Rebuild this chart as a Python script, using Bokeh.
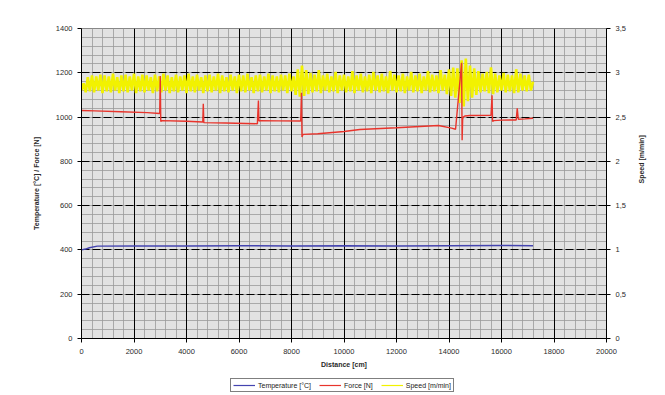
import math
from bokeh.plotting import figure
from bokeh.layouts import column
from bokeh.models import (Range1d, LinearAxis, SingleIntervalTicker, FixedTicker, Grid,
                          CustomJSTickFormatter, Legend, LegendItem)
from bokeh.embed import file_html
from bokeh.resources import INLINE

# ---- data ----
temp_dist = [0, 150, 300, 600, 2000, 4000, 6000, 8000, 10000, 12000, 14000, 16000, 17200]
temp_vals = [400, 404, 410, 417, 418, 418, 419, 418, 419, 418, 419, 420, 419]

force_dist = [0, 500, 1500, 2500, 2980, 3000, 3020, 3060, 4000, 4620, 4640, 4660, 5500,
              6700, 6740, 6760, 6800, 7500, 8350, 8380, 8400, 8440, 9000, 10000, 10600,
              12000, 13600, 14100, 14250, 14480, 14500, 14520, 14540, 14600, 14800,
              15600, 15640, 15660, 15700, 16000, 16560, 16600, 16640, 16900, 17200]
force_vals = [1030, 1028, 1024, 1020, 1016, 1185, 980, 984, 981, 978, 1060, 975, 973,
              970, 1075, 982, 984, 983, 982, 1110, 910, 922, 925, 935, 944,
              952, 962, 950, 945, 1245, 895, 990, 1000, 1005, 1007,
              1008, 1098, 980, 984, 986, 987, 1040, 990, 992, 995]

speed_step = 80  # cm between speed samples
speed_vals = [
    2.80, 2.88, 2.78, 2.95, 2.79, 2.97, 2.78, 2.96, 2.80, 2.98, 2.77, 2.97,
    2.79, 2.96, 2.78, 2.99, 2.80, 2.95, 2.77, 2.97, 2.79, 2.98, 2.78, 2.96,
    2.80, 2.99, 2.77, 2.96, 2.79, 2.98, 2.78, 2.97, 2.80, 2.95, 2.77, 2.98,
    2.79, 2.96, 2.78, 2.99, 2.80, 2.97, 2.77, 2.95, 2.79, 2.98, 2.78, 2.96,
    2.80, 2.97, 2.77, 2.99, 2.79, 2.96, 2.78, 2.98, 2.80, 2.95, 2.77, 2.97,
    2.79, 2.98, 2.78, 2.96, 2.80, 2.99, 2.77, 2.97, 2.79, 2.95, 2.78, 2.98,
    2.80, 2.96, 2.77, 2.98, 2.79, 2.97, 2.78, 2.99, 2.80, 2.95, 2.77, 2.97,
    2.79, 2.98, 2.78, 2.96, 2.80, 2.99, 2.77, 2.97, 2.79, 2.96, 2.78, 2.98,
    2.80, 2.97, 2.77, 2.99, 2.79, 2.96, 2.75, 3.04, 2.73, 3.08, 2.74, 3.03,
    2.76, 3.00, 2.78, 2.98, 2.79, 3.03, 2.77, 2.97, 2.80, 2.99, 2.78, 2.96,
    2.79, 3.01, 2.77, 2.97, 2.80, 2.98, 2.78, 2.96, 2.79, 3.02, 2.77, 2.97,
    2.80, 2.99, 2.78, 2.96, 2.79, 2.98, 2.77, 3.01, 2.80, 2.97, 2.78, 2.99,
    2.79, 2.96, 2.77, 3.02, 2.80, 2.98, 2.78, 2.97, 2.79, 2.99, 2.77, 2.96,
    2.80, 3.01, 2.78, 2.97, 2.79, 2.99, 2.77, 2.96, 2.80, 3.02, 2.78, 2.98,
    2.79, 2.97, 2.77, 3.03, 2.80, 2.98, 2.76, 3.04, 2.74, 3.06, 2.72, 3.05,
    2.66, 3.14, 2.62, 3.16, 2.68, 3.08, 2.72, 3.05, 2.75, 3.02, 2.78, 2.99,
    2.79, 3.01, 2.77, 3.06, 2.76, 2.99, 2.78, 2.97, 2.80, 3.00, 2.78, 2.98,
    2.79, 2.97, 2.77, 3.04, 2.78, 2.99, 2.80, 2.97, 2.79, 2.98, 2.80, 2.90,
]
speed_dist = [i * speed_step for i in range(len(speed_vals))]

right_ticks = [0, 0.5, 1, 1.5, 2, 2.5, 3, 3.5]

labels = ["Temperature [°C]", "Force [N]", "Speed [m/min]"]
colors = ["#4444b0", "#e8342c", "#f2f200"]

FONT = "Liberation Sans"

p = figure(frame_width=525, frame_height=310, output_backend="svg", toolbar_location=None,
           x_range=Range1d(0, 20000), y_range=Range1d(0, 1400),
           min_border_left=81, min_border_top=28, min_border_right=59, min_border_bottom=38,
           background_fill_color="#e2e2e2", border_fill_color="white",
           outline_line_color="#888888")
p.extra_y_ranges = {"speed": Range1d(0, 3.5)}

xt = SingleIntervalTicker(interval=2000, num_minor_ticks=0)
yt = SingleIntervalTicker(interval=200, num_minor_ticks=0)
p.xaxis.ticker = xt
p.yaxis.ticker = yt

# fine grid (every 400 cm / 40 units)
p.xgrid.ticker = SingleIntervalTicker(interval=400)
p.ygrid.ticker = SingleIntervalTicker(interval=40)
p.xgrid.grid_line_color = "#9a9a9a"
p.xgrid.grid_line_width = 0.8
p.ygrid.grid_line_color = "#9a9a9a"
p.ygrid.grid_line_width = 0.8

# major grid on top
p.add_layout(Grid(dimension=0, ticker=xt, grid_line_color="black", grid_line_width=1))
p.add_layout(Grid(dimension=1, ticker=yt, grid_line_color="black", grid_line_width=1,
                  grid_line_dash="8 3"))

rs = p.line(speed_dist, speed_vals, y_range_name="speed", color=colors[2], line_width=2.6)
rf = p.line(force_dist, force_vals, color=colors[1], line_width=1.4)
rt = p.line(temp_dist, temp_vals, color=colors[0], line_width=1.4)

ra = LinearAxis(y_range_name="speed", ticker=FixedTicker(ticks=right_ticks),
                formatter=CustomJSTickFormatter(code="return tick.toString().replace('.', ',');"),
                axis_label="Speed [m/min]")
p.add_layout(ra, "right")

p.xaxis.axis_label = "Distance [cm]"
p.yaxis[0].axis_label = "Temperature [°C] / Force [N]"

for ax in [p.xaxis[0], p.yaxis[0], ra]:
    ax.axis_line_color = "black"
    ax.major_tick_line_color = "black"
    ax.major_tick_in = 0
    ax.major_tick_out = 4
    ax.minor_tick_line_color = None
    ax.major_label_text_font = FONT
    ax.major_label_text_font_size = "7.5px"
    ax.major_label_text_color = "#2a2a2a"
    ax.major_label_standoff = 5
    ax.axis_label_text_font = FONT
    ax.axis_label_text_font_size = "7px"
    ax.axis_label_text_font_style = "bold"
    ax.axis_label_text_color = "#2a2a2a"
p.yaxis[0].axis_label_standoff = 13
ra.axis_label_standoff = 13
ra.axis_label_orientation = math.pi / 2
p.xaxis[0].axis_label_standoff = 4
p.xaxis[0].major_label_standoff = 6

# ---- legend strip below the chart (its lines lie outside its tiny view) ----
lg = figure(width=665, height=19, output_backend="svg", toolbar_location=None,
            x_range=Range1d(-2, -1), y_range=Range1d(-2, -1),
            min_border=0, outline_line_color=None, border_fill_color="white",
            background_fill_color="white")
lg.axis.visible = False
lg.grid.visible = False
lt = lg.line(temp_dist, temp_vals, color=colors[0], line_width=1.2)
lf = lg.line(force_dist, force_vals, color=colors[1], line_width=1.2)
ls = lg.line(speed_dist, speed_vals, color=colors[2], line_width=1.2)
legend = Legend(items=[LegendItem(label=labels[0], renderers=[lt]),
                       LegendItem(label=labels[1], renderers=[lf]),
                       LegendItem(label=labels[2], renderers=[ls])],
                orientation="horizontal", location=(149, 3),
                label_text_font=FONT, label_text_font_size="7px", label_text_color="#222222",
                border_line_color="black", border_line_width=1,
                glyph_width=22, glyph_height=8, label_height=8, label_standoff=3,
                padding=2, spacing=8, margin=0, background_fill_color="white")
lg.add_layout(legend, "center")

layout = column(p, lg, spacing=0)
open("out.html", "w").write(file_html(layout, INLINE))
